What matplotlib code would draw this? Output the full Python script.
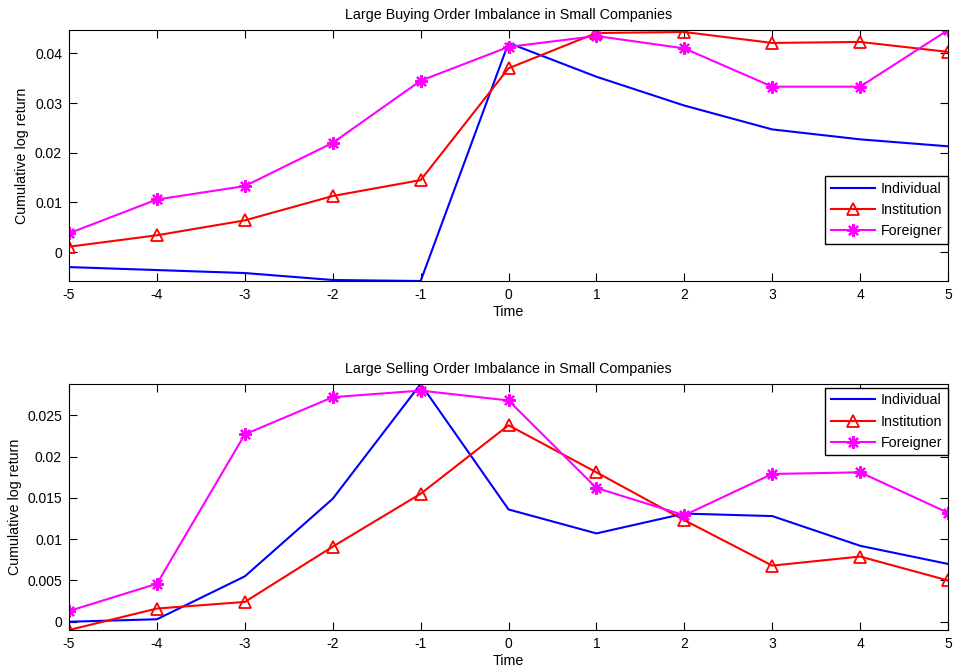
#!/usr/bin/env python3
"""Cumulative log return around large order imbalance events (small companies)."""

import matplotlib
matplotlib.use("Agg")
import matplotlib.pyplot as plt
from matplotlib.ticker import FuncFormatter

TIME = [-5, -4, -3, -2, -1, 0, 1, 2, 3, 4, 5]

BUY_INDIVIDUAL = [-0.0030, -0.0036, -0.0042, -0.0056, -0.0058, 0.0421, 0.0353, 0.0295, 0.0247, 0.0227, 0.0213]
BUY_INSTITUTION = [0.0011, 0.0034, 0.0064, 0.0113, 0.0145, 0.0370, 0.0441, 0.0443, 0.0421, 0.0423, 0.0403]
BUY_FOREIGNER = [0.0038, 0.0106, 0.0133, 0.0220, 0.0345, 0.0413, 0.0435, 0.0410, 0.0333, 0.0333, 0.0447]

SELL_INDIVIDUAL = [0.0000, 0.0003, 0.0055, 0.0149, 0.0288, 0.0136, 0.0107, 0.0131, 0.0128, 0.0092, 0.0070]
SELL_INSTITUTION = [-0.0010, 0.0016, 0.0024, 0.0091, 0.0155, 0.0238, 0.0181, 0.0123, 0.0068, 0.0079, 0.0050]
SELL_FOREIGNER = [0.0013, 0.0046, 0.0227, 0.0272, 0.0280, 0.0268, 0.0162, 0.0129, 0.0179, 0.0181, 0.0132]

TITLES = [
    "Large Buying Order Imbalance in Small Companies",
    "Large Selling Order Imbalance in Small Companies",
]
LABELS = ["Individual", "Institution", "Foreigner"]

plt.rcParams["font.family"] = ["Liberation Sans", "DejaVu Sans"]
plt.rcParams["font.size"] = 10.3
plt.rcParams["axes.unicode_minus"] = False

ASTERISK = (8, 2, 0)
TEXT_SIZE = 10.3
TICK_SIZE = 10


def _gfmt(v, _pos):
    return "%g" % round(v, 6)


def draw_panel(ax, title, indiv, inst, foreign, yticks, legend_anchor):
    ax.plot(TIME, indiv, color="#0000ff", linewidth=1.5, label=LABELS[0])
    ax.plot(TIME, inst, color="#ff0000", linewidth=1.5, marker="^", markersize=8,
            markerfacecolor="none", markeredgecolor="#ff0000", markeredgewidth=1.3,
            label=LABELS[1])
    ax.plot(TIME, foreign, color="#ff00ff", linewidth=1.5, marker=ASTERISK, markersize=9,
            markeredgewidth=1.6, label=LABELS[2])
    values = indiv + inst + foreign
    ax.set_xlim(-5, 5)
    ax.set_ylim(min(values), max(values))
    ax.set_xticks(TIME)
    ax.set_yticks(yticks)
    ax.yaxis.set_major_formatter(FuncFormatter(_gfmt))
    ax.tick_params(direction="in", length=6, width=0.8, top=True, right=True,
                   labelsize=TICK_SIZE, pad=5)
    for spine in ax.spines.values():
        spine.set_linewidth(0.8)
    ax.set_title(title, fontsize=TEXT_SIZE, pad=8)
    ax.set_xlabel("Time", fontsize=TEXT_SIZE, labelpad=2)
    ax.set_ylabel("Cumulative log return", fontsize=TEXT_SIZE, labelpad=4)
    leg = ax.legend(loc="upper right", bbox_to_anchor=legend_anchor,
                    fancybox=False, edgecolor="black", framealpha=1.0, handlelength=3.1,
                    borderaxespad=0.0, borderpad=0.4, labelspacing=0.5, handletextpad=0.4,
                    fontsize=TEXT_SIZE)
    leg.get_frame().set_linewidth(1.0)


fig = plt.figure(figsize=(9.55, 6.7), dpi=100)
ax_top = fig.add_axes([0.0723, 0.5806, 0.9204, 0.3746])
ax_bot = fig.add_axes([0.0723, 0.0597, 0.9204, 0.3672])

draw_panel(ax_top, TITLES[0], BUY_INDIVIDUAL, BUY_INSTITUTION, BUY_FOREIGNER,
           [0, 0.01, 0.02, 0.03, 0.04], (1.0, 0.418))
draw_panel(ax_bot, TITLES[1], SELL_INDIVIDUAL, SELL_INSTITUTION, SELL_FOREIGNER,
           [0, 0.005, 0.01, 0.015, 0.02, 0.025], (1.0, 0.985))

fig.savefig("out.png", dpi=100)
